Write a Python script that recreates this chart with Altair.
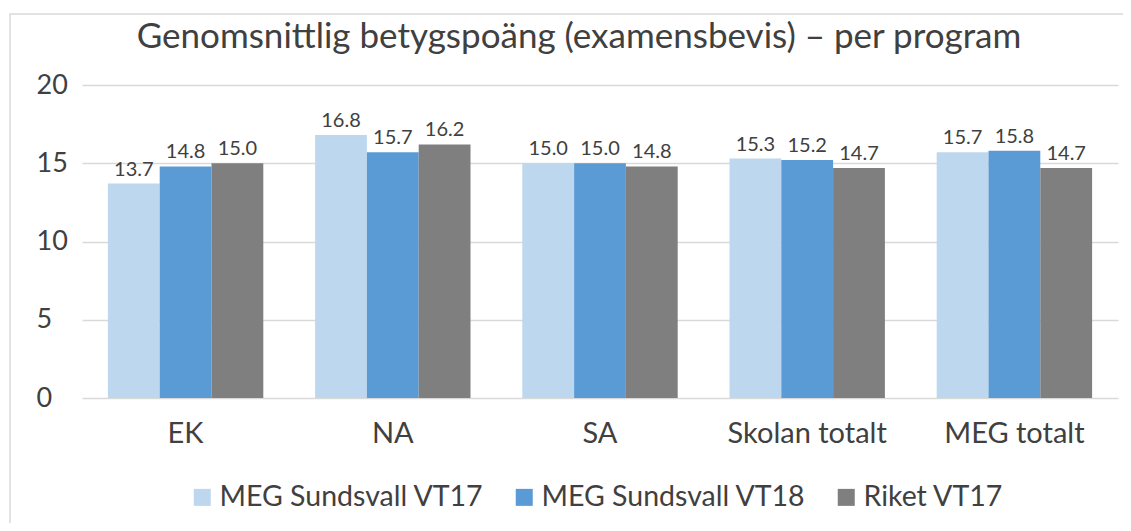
import altair as alt
import pandas as pd

categories = ["EK", "NA", "SA", "Skolan totalt", "MEG totalt"]
series = ["MEG Sundsvall VT17", "MEG Sundsvall VT18", "Riket VT17"]
vt17 = [13.7, 16.8, 15.0, 15.3, 15.7]
vt18 = [14.8, 15.7, 15.0, 15.2, 15.8]
riket = [15.0, 16.2, 14.8, 14.7, 14.7]
colors = ["#BDD7EE", "#5B9BD5", "#7F7F7F"]

rows = []
for s, vals in zip(series, [vt17, vt18, riket]):
    for c, v in zip(categories, vals):
        rows.append({"program": c, "serie": s, "value": v})
df = pd.DataFrame(rows)

FONT = "Lato"
TXT = "#404040"

x = alt.X("program:N", sort=categories, title=None,
          scale=alt.Scale(paddingInner=0.25, paddingOuter=0.125),
          axis=alt.Axis(labelAngle=0, labelFontSize=29, labelFont=FONT, labelColor=TXT,
                        ticks=False, domain=False, labelPadding=21, grid=False))
xo = alt.XOffset("serie:N", sort=series)
y = alt.Y("value:Q", title=None,
          scale=alt.Scale(domain=[0, 20], nice=False),
          axis=alt.Axis(values=[0, 5, 10, 15, 20], labelFontSize=27, labelFont=FONT,
                        labelColor=TXT, labelAlign="left", labelPadding=46,
                        ticks=False, tickSize=0, domain=False,
                        gridColor="#D9D9D9", gridWidth=1.5))

bars = alt.Chart(df).mark_bar().encode(
    x=x, xOffset=xo, y=y,
    color=alt.Color("serie:N", sort=series,
                    scale=alt.Scale(domain=series, range=colors),
                    legend=alt.Legend(title=None, orient="none", direction="horizontal",
                                      legendX=106, legendY=398,
                                      symbolType="square", symbolSize=289,
                                      symbolStrokeWidth=0, labelLimit=0,
                                      labelFontSize=28.5, labelFont=FONT, labelColor=TXT,
                                      columnPadding=26, labelOffset=3)),
)

labels = alt.Chart(df).mark_text(baseline="bottom", dy=-4, fontSize=20, font=FONT,
                                 color=TXT).encode(
    x=x, xOffset=xo, y=y,
    text=alt.Text("value:Q", format=".1f"),
)

border = alt.Chart(pd.DataFrame({"a": [0]})).mark_rect(
    fill=None, stroke="#D9D9D9", strokeWidth=1.5
).encode(x=alt.value(-72), x2=alt.value(1060), y=alt.value(-71), y2=alt.value(460))

chart = alt.layer(border, bars, labels).properties(
    width=1036, height=313,
    autosize=alt.AutoSizeParams(type="none"),
    padding={"left": 74, "top": 77, "right": 5, "bottom": 125},
    view=alt.ViewBackground(stroke="transparent", strokeWidth=0),
    title=alt.TitleParams("Genomsnittlig betygspoäng (examensbevis) – per program",
                          fontSize=35, font=FONT, fontWeight="normal", color=TXT,
                          anchor="middle", dx=-21, dy=35, offset=-42, baseline="bottom"),
).configure(background="white").configure_view(
    strokeWidth=0, stroke="transparent"
)

chart.save("out.html", embed_options={"renderer": "svg", "actions": False})
